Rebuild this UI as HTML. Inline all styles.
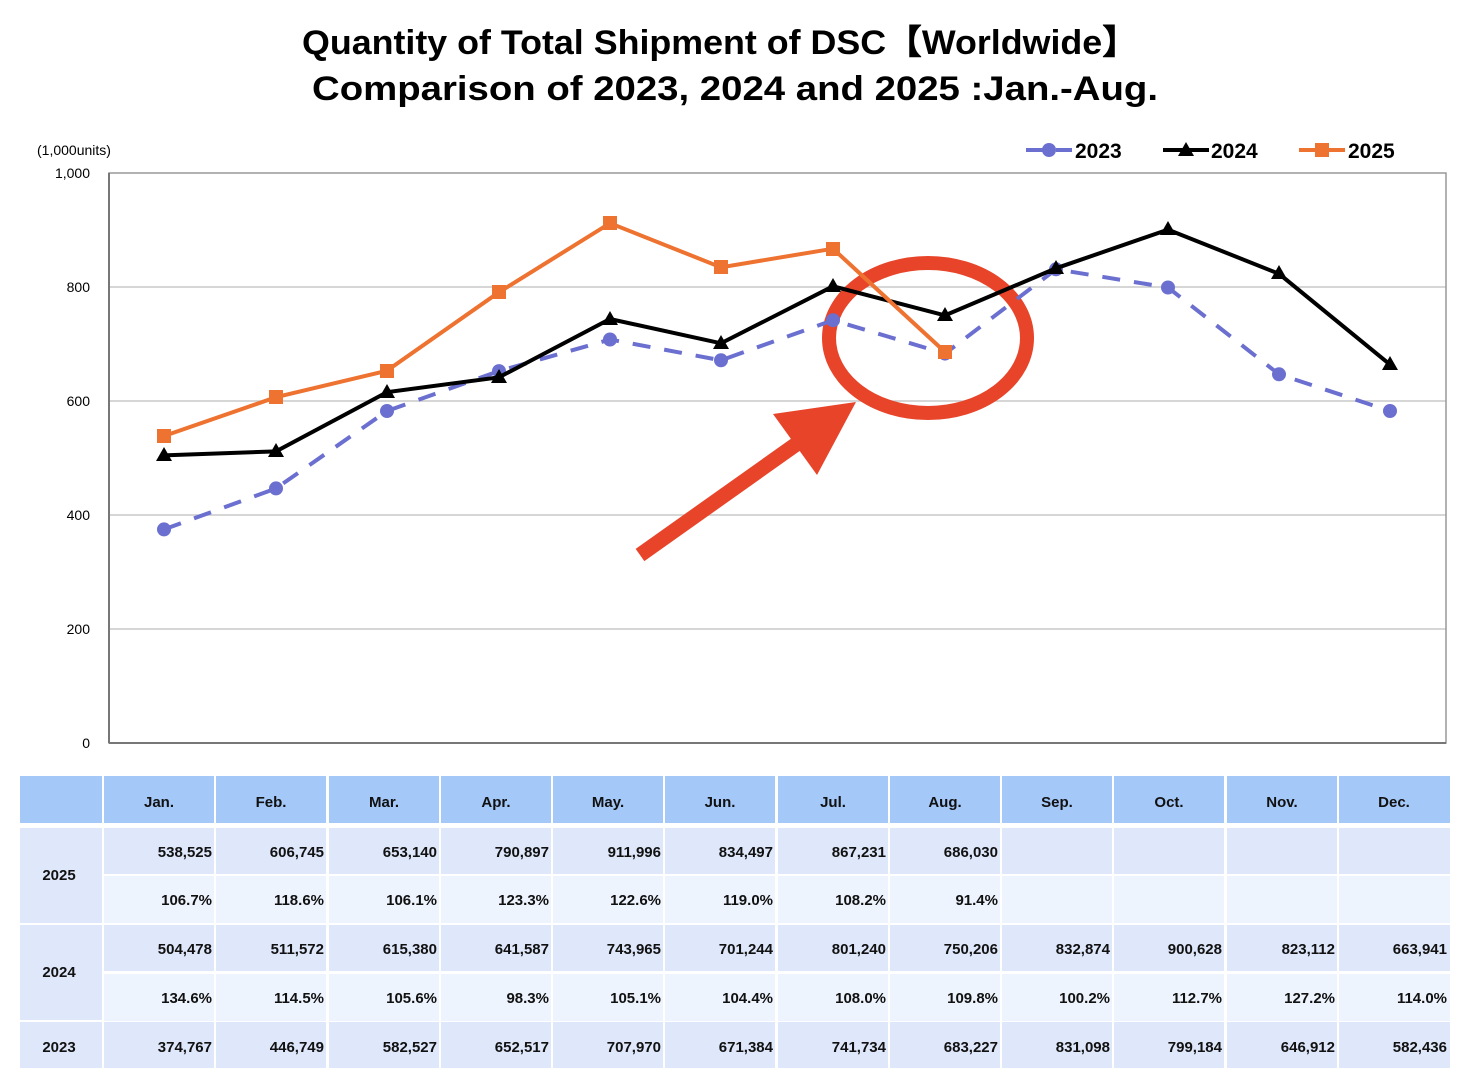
<!DOCTYPE html>
<html><head><meta charset="utf-8"><style>
html,body{margin:0;padding:0;background:#fff;}
svg{display:block;font-family:"Liberation Sans","DejaVu Sans",sans-serif;}
.t{font-size:34px;font-weight:bold;fill:#000}
.ax{font-size:14px;fill:#000}
.lg{font-size:21px;font-weight:bold;fill:#000}
.h{font-size:15px;font-weight:bold;fill:#111;text-anchor:middle}
.c{font-size:15px;font-weight:bold;fill:#111;text-anchor:end}
.y{font-size:15px;font-weight:bold;fill:#111;text-anchor:middle}
</style></head><body>
<svg width="1466" height="1086" viewBox="0 0 1466 1086" xmlns="http://www.w3.org/2000/svg">
<text class="t" x="720" y="54" text-anchor="middle" textLength="836" lengthAdjust="spacingAndGlyphs">Quantity of Total Shipment of DSC【Worldwide】</text>
<text class="t" x="735" y="100" text-anchor="middle" textLength="846" lengthAdjust="spacingAndGlyphs">Comparison of 2023, 2024 and 2025 :Jan.-Aug.</text>

<text class="ax" x="37" y="155">(1,000units)</text>
<g class="ax" text-anchor="end">
<text x="90" y="178">1,000</text><text x="90" y="292">800</text><text x="90" y="406">600</text><text x="90" y="520">400</text><text x="90" y="634">200</text><text x="90" y="748">0</text>
</g>
<g stroke="#c8c8c8" stroke-width="1.5">
<line x1="109" y1="287" x2="1446" y2="287"/><line x1="109" y1="401" x2="1446" y2="401"/><line x1="109" y1="515" x2="1446" y2="515"/><line x1="109" y1="629" x2="1446" y2="629"/>
</g>
<rect x="109" y="173" width="1337" height="570" fill="none" stroke="#999" stroke-width="1.5"/>
<line x1="109" y1="173" x2="109" y2="743" stroke="#777" stroke-width="2"/>
<line x1="109" y1="743" x2="1446" y2="743" stroke="#777" stroke-width="2"/>

<!-- annotations -->
<ellipse cx="928" cy="338" rx="99" ry="75" fill="none" stroke="#e8442a" stroke-width="14"/>
<line x1="640" y1="555" x2="805" y2="438" stroke="#e8442a" stroke-width="15"/>
<polygon points="773,414 856,402 817,475" fill="#e8442a"/>

<!-- 2023 -->
<polyline fill="none" stroke="#6b6fcf" stroke-width="4" stroke-dasharray="18,14" points="164,529.4 276,488.4 387,411 499,371.1 610,339.5 721,360.3 833,320.2 945,353.6 1056,269.3 1168,287.5 1279,374.3 1390,411"/>
<g fill="#6b6fcf">
<circle cx="164" cy="529.4" r="7"/><circle cx="276" cy="488.4" r="7"/><circle cx="387" cy="411" r="7"/><circle cx="499" cy="371.1" r="7"/><circle cx="610" cy="339.5" r="7"/><circle cx="721" cy="360.3" r="7"/><circle cx="833" cy="320.2" r="7"/><circle cx="945" cy="353.6" r="7"/><circle cx="1056" cy="269.3" r="7"/><circle cx="1168" cy="287.5" r="7"/><circle cx="1279" cy="374.3" r="7"/><circle cx="1390" cy="411" r="7"/>
</g>
<!-- 2024 -->
<polyline fill="none" stroke="#000" stroke-width="4" points="164,455.4 276,451.4 387,392.2 499,377.3 610,319 721,343.3 833,286.3 945,315.4 1056,268.3 1168,229.6 1279,273.8 1390,364.6"/>
<g fill="#000">
<polygon points="164,447 156,461 172,461"/><polygon points="276,443 268,457 284,457"/><polygon points="387,384 379,398 395,398"/><polygon points="499,369 491,383 507,383"/><polygon points="610,311 602,325 618,325"/><polygon points="721,335 713,349 729,349"/><polygon points="833,278 825,292 841,292"/><polygon points="945,307 937,321 953,321"/><polygon points="1056,260 1048,274 1064,274"/><polygon points="1168,221 1160,235 1176,235"/><polygon points="1279,265 1271,279 1287,279"/><polygon points="1390,356 1382,370 1398,370"/>
</g>
<!-- 2025 -->
<polyline fill="none" stroke="#ee7230" stroke-width="4" points="164,436 276,397.2 387,370.7 499,292.2 610,223.2 721,267.3 833,248.7 945,352"/>
<g fill="#ee7230">
<rect x="157" y="429" width="14" height="14"/><rect x="269" y="390" width="14" height="14"/><rect x="380" y="364" width="14" height="14"/><rect x="492" y="285" width="14" height="14"/><rect x="603" y="216" width="14" height="14"/><rect x="714" y="260" width="14" height="14"/><rect x="826" y="242" width="14" height="14"/><rect x="938" y="345" width="14" height="14"/>
</g>

<!-- legend -->
<line x1="1026" y1="150" x2="1072" y2="150" stroke="#6b6fcf" stroke-width="4" stroke-dasharray="22,8"/>
<circle cx="1049" cy="150" r="7" fill="#6b6fcf"/>
<text class="lg" x="1075" y="158">2023</text>
<line x1="1163" y1="150" x2="1209" y2="150" stroke="#000" stroke-width="4"/>
<polygon points="1186,142 1178,156 1194,156" fill="#000"/>
<text class="lg" x="1211" y="158">2024</text>
<line x1="1299" y1="150" x2="1345" y2="150" stroke="#ee7230" stroke-width="4"/>
<rect x="1315" y="143" width="14" height="14" fill="#ee7230"/>
<text class="lg" x="1348" y="158">2025</text>

<!-- table backgrounds -->
<g fill="#a4c8f8">
<rect x="20" y="776" width="82" height="47"/>
<rect x="104" y="776" width="110" height="47"/><rect x="216" y="776" width="110" height="47"/><rect x="329" y="776" width="110" height="47"/><rect x="441" y="776" width="110" height="47"/><rect x="553" y="776" width="110" height="47"/><rect x="665" y="776" width="110" height="47"/><rect x="778" y="776" width="110" height="47"/><rect x="890" y="776" width="110" height="47"/><rect x="1002" y="776" width="110" height="47"/><rect x="1114" y="776" width="110" height="47"/><rect x="1227" y="776" width="110" height="47"/><rect x="1339" y="776" width="111" height="47"/>
</g>
<g fill="#dfe8fb">
<rect x="20" y="828" width="82" height="95"/><rect x="20" y="925" width="82" height="95"/><rect x="20" y="1022" width="82" height="46"/>
</g>
<g id="rowA" fill="#dfe8fb">
<rect x="104" y="828" width="110" height="46"/><rect x="216" y="828" width="110" height="46"/><rect x="329" y="828" width="110" height="46"/><rect x="441" y="828" width="110" height="46"/><rect x="553" y="828" width="110" height="46"/><rect x="665" y="828" width="110" height="46"/><rect x="778" y="828" width="110" height="46"/><rect x="890" y="828" width="110" height="46"/><rect x="1002" y="828" width="110" height="46"/><rect x="1114" y="828" width="110" height="46"/><rect x="1227" y="828" width="110" height="46"/><rect x="1339" y="828" width="111" height="46"/>
</g>
<use href="#rowA" y="97"/>
<use href="#rowA" y="194"/>
<g id="rowB" fill="#eef4fe">
<rect x="104" y="876" width="110" height="47"/><rect x="216" y="876" width="110" height="47"/><rect x="329" y="876" width="110" height="47"/><rect x="441" y="876" width="110" height="47"/><rect x="553" y="876" width="110" height="47"/><rect x="665" y="876" width="110" height="47"/><rect x="778" y="876" width="110" height="47"/><rect x="890" y="876" width="110" height="47"/><rect x="1002" y="876" width="110" height="47"/><rect x="1114" y="876" width="110" height="47"/><rect x="1227" y="876" width="110" height="47"/><rect x="1339" y="876" width="111" height="47"/>
</g>
<use href="#rowB" y="98"/>

<!-- header text -->
<text class="h" x="159" y="807">Jan.</text><text class="h" x="271" y="807">Feb.</text><text class="h" x="384" y="807">Mar.</text><text class="h" x="496" y="807">Apr.</text><text class="h" x="608" y="807">May.</text><text class="h" x="720" y="807">Jun.</text><text class="h" x="833" y="807">Jul.</text><text class="h" x="945" y="807">Aug.</text><text class="h" x="1057" y="807">Sep.</text><text class="h" x="1169" y="807">Oct.</text><text class="h" x="1282" y="807">Nov.</text><text class="h" x="1394" y="807">Dec.</text>

<text class="y" x="59" y="880">2025</text>
<text class="y" x="59" y="977">2024</text>
<text class="y" x="59" y="1052">2023</text>

<g class="c">
<text x="212" y="857">538,525</text><text x="324" y="857">606,745</text><text x="437" y="857">653,140</text><text x="549" y="857">790,897</text><text x="661" y="857">911,996</text><text x="773" y="857">834,497</text><text x="886" y="857">867,231</text><text x="998" y="857">686,030</text>
<text x="212" y="905">106.7%</text><text x="324" y="905">118.6%</text><text x="437" y="905">106.1%</text><text x="549" y="905">123.3%</text><text x="661" y="905">122.6%</text><text x="773" y="905">119.0%</text><text x="886" y="905">108.2%</text><text x="998" y="905">91.4%</text>
<text x="212" y="954">504,478</text><text x="324" y="954">511,572</text><text x="437" y="954">615,380</text><text x="549" y="954">641,587</text><text x="661" y="954">743,965</text><text x="773" y="954">701,244</text><text x="886" y="954">801,240</text><text x="998" y="954">750,206</text><text x="1110" y="954">832,874</text><text x="1222" y="954">900,628</text><text x="1335" y="954">823,112</text><text x="1447" y="954">663,941</text>
<text x="212" y="1003">134.6%</text><text x="324" y="1003">114.5%</text><text x="437" y="1003">105.6%</text><text x="549" y="1003">98.3%</text><text x="661" y="1003">105.1%</text><text x="773" y="1003">104.4%</text><text x="886" y="1003">108.0%</text><text x="998" y="1003">109.8%</text><text x="1110" y="1003">100.2%</text><text x="1222" y="1003">112.7%</text><text x="1335" y="1003">127.2%</text><text x="1447" y="1003">114.0%</text>
<text x="212" y="1052">374,767</text><text x="324" y="1052">446,749</text><text x="437" y="1052">582,527</text><text x="549" y="1052">652,517</text><text x="661" y="1052">707,970</text><text x="773" y="1052">671,384</text><text x="886" y="1052">741,734</text><text x="998" y="1052">683,227</text><text x="1110" y="1052">831,098</text><text x="1222" y="1052">799,184</text><text x="1335" y="1052">646,912</text><text x="1447" y="1052">582,436</text>
</g>
</svg>
</body></html>
